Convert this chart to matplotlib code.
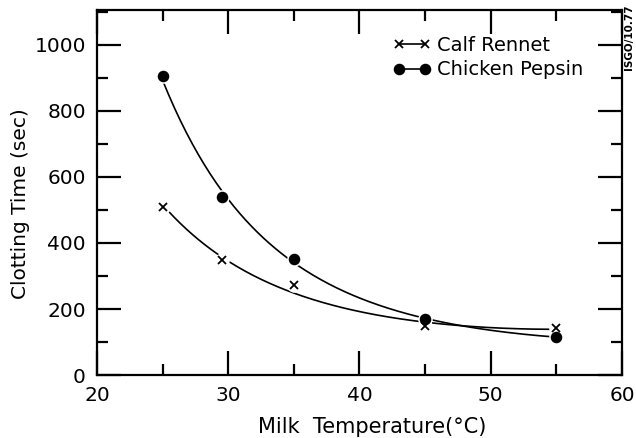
import numpy as np
import matplotlib
matplotlib.use("Agg")
import matplotlib.pyplot as plt
from matplotlib.ticker import MultipleLocator

# Clotting time vs milk temperature
temp_rennet = [25, 29.5, 35, 45, 55]
time_rennet = [509, 348, 273, 148, 142]

temp_pepsin = [25, 29.5, 35, 45, 55]
time_pepsin = [905, 539, 351, 170, 115]

plt.rcParams['font.family'] = ['DejaVu Sans']

fig = plt.figure(figsize=(6.36, 4.38), dpi=100)
ax = fig.add_axes([0.1525, 0.1438, 0.8255, 0.8334])


def smooth_curve(x, y):
    # quadratic fit in log space, drawn over the measured range
    c = np.polyfit(x, np.log(y), 2)
    xs = np.linspace(min(x), max(x), 200)
    return xs, np.exp(np.polyval(c, xs))


for tx, ty, mk, ms, lab in [(temp_rennet, time_rennet, 'x', 5.5, 'Calf Rennet'),
                            (temp_pepsin, time_pepsin, 'o', 7, 'Chicken Pepsin')]:
    xs, ys = smooth_curve(tx, ty)
    ax.plot(xs, ys, color='black', lw=1.2, zorder=2)
    # white halo so the curve breaks around each point
    ax.plot(tx, ty, 'o', color='white', ms=9.5, zorder=3)
    ax.plot(tx, ty, mk, color='black', ms=ms, mew=1.3, zorder=4)
    ax.plot([], [], marker=mk, color='black', ms=ms, mew=1.3, lw=1.2, label=lab)

ax.set_xlim(20, 60)
ax.set_ylim(0, 1106)
ax.xaxis.set_major_locator(MultipleLocator(10))
ax.xaxis.set_minor_locator(MultipleLocator(5))
ax.yaxis.set_major_locator(MultipleLocator(200))
ax.yaxis.set_minor_locator(MultipleLocator(100))
ax.tick_params(which='both', direction='in', top=True, right=True, width=1.6,
               labelsize=14.5)
ax.tick_params(which='major', length=17, pad=8)
ax.tick_params(which='minor', length=8)
for s in ax.spines.values():
    s.set_linewidth(1.6)

ax.set_xlabel('Milk  Temperature(°C)', fontsize=15)
ax.xaxis.set_label_coords(0.525, -0.115)
ax.set_ylabel('Clotting Time (sec)', fontsize=14.5)
ax.yaxis.set_label_coords(-0.128, 0.47)

ax.legend(loc='upper left', bbox_to_anchor=(0.565, 0.93), frameon=False,
          borderaxespad=0, borderpad=0, numpoints=2, fontsize=14,
          handlelength=1.9, handletextpad=0.35, labelspacing=0.3)

fig.text(0.989, 0.99, 'ISGO/10.77', rotation=90, fontsize=7.5,
         fontweight='bold', ha='center', va='top')

fig.savefig('out.png', dpi=100)
